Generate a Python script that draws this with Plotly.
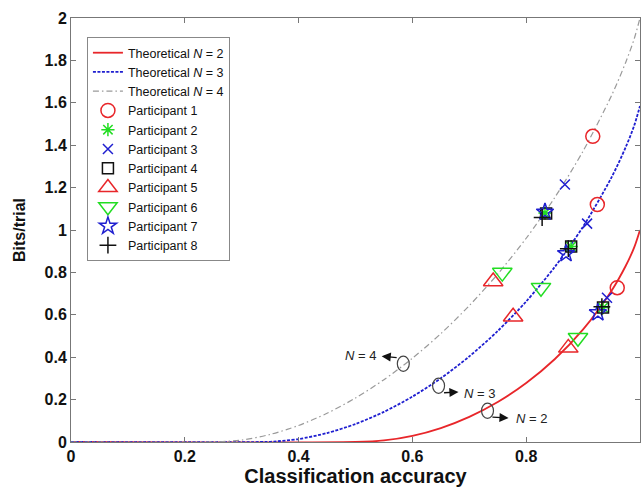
import plotly.graph_objects as go

# Theoretical curves (Wolpaw bits/trial), values tabulated
acc_n2 = [0.0, 0.5, 0.55, 0.6, 0.65, 0.7, 0.75, 0.8, 0.85, 0.9, 0.95, 0.975, 0.99, 1.0]
bits_n2 = [0.0, 0.0, 0.0072, 0.0290, 0.0659, 0.1187, 0.1887, 0.2781, 0.3902, 0.5310, 0.7136, 0.8313, 0.9192, 1.0]

acc_n3 = [0.0, 0.3333, 0.35, 0.4, 0.45, 0.5, 0.55, 0.6, 0.65, 0.7, 0.75, 0.8, 0.85, 0.9, 0.95, 0.975, 0.99, 1.0]
bits_n3 = [0.0, 0.0, 0.0009, 0.0140, 0.0422, 0.0850, 0.1422, 0.2140, 0.3009, 0.4037, 0.5237, 0.6630, 0.8251, 1.0160, 1.2486, 1.3913, 1.4942, 1.5850]

acc_n4 = [0.0, 0.25, 0.3, 0.35, 0.4, 0.45, 0.5, 0.55, 0.6, 0.65, 0.7, 0.75, 0.8, 0.85, 0.9, 0.95, 0.975, 0.99, 1.0]
bits_n4 = [0.0, 0.0, 0.0092, 0.0357, 0.0781, 0.1355, 0.2075, 0.2940, 0.3951, 0.5112, 0.6432, 0.7925, 0.9611, 1.1524, 1.3725, 1.6344, 1.7917, 1.9034, 2.0]

# Participants (accuracy, bits/trial)
p1_acc = [0.917, 0.925, 0.960]
p1_bits = [1.442, 1.120, 0.728]
p2_acc = [0.833, 0.879, 0.935]
p2_bits = [1.080, 0.922, 0.634]
p3_acc = [0.868, 0.907, 0.942]
p3_bits = [1.215, 1.030, 0.680]
p4_acc = [0.835, 0.879, 0.935]
p4_bits = [1.078, 0.922, 0.634]
p5_acc = [0.742, 0.777, 0.874]
p5_bits = [0.757, 0.591, 0.444]
p6_acc = [0.758, 0.826, 0.891]
p6_bits = [0.799, 0.728, 0.492]
p7_acc = [0.833, 0.870, 0.926]
p7_bits = [1.085, 0.889, 0.610]
p8_acc = [0.828, 0.874, 0.933]
p8_bits = [1.059, 0.912, 0.638]

FONT = "Arial, Liberation Sans, sans-serif"

fig = go.Figure()

fig.add_trace(go.Scatter(x=acc_n2, y=bits_n2, mode="lines", name="Theoretical <i>N</i> = 2",
                         line=dict(color="#e8262a", width=1.8, shape="spline", smoothing=0.8)))
fig.add_trace(go.Scatter(x=acc_n3, y=bits_n3, mode="lines", name="Theoretical <i>N</i> = 3",
                         line=dict(color="#1f1fd0", width=1.8, dash="3px,1.5px", shape="spline", smoothing=0.8)))
fig.add_trace(go.Scatter(x=acc_n4, y=bits_n4, mode="lines", name="Theoretical <i>N</i> = 4",
                         line=dict(color="#9a9a9a", width=1.2, dash="6px,3px,1.5px,3px", shape="spline", smoothing=0.8)))

participants = [
    ("Participant 1", p1_acc, p1_bits, "circle-open", "#e8262a", 14),
    ("Participant 2", p2_acc, p2_bits, "asterisk-open", "#22dd22", 11),
    ("Participant 3", p3_acc, p3_bits, "x-thin-open", "#1f1fd0", 10),
    ("Participant 4", p4_acc, p4_bits, "square-open", "#111111", 11),
    ("Participant 5", p5_acc, p5_bits, "triangle-up-open", "#e8262a", 17),
    ("Participant 6", p6_acc, p6_bits, "triangle-down-open", "#22dd22", 17),
    ("Participant 7", p7_acc, p7_bits, "star-open", "#1f1fd0", 13),
    ("Participant 8", p8_acc, p8_bits, "cross-thin-open", "#111111", 12),
]
for name, xs, ys, sym, col, sz in participants:
    fig.add_trace(go.Scatter(x=xs, y=ys, mode="markers", name=name,
                             marker=dict(symbol=sym, size=sz, color=col,
                                         line=dict(color=col, width=1.5))))

# Ellipse markers with arrows and labels
ellipses = [(0.584, 0.369), (0.646, 0.265), (0.732, 0.147)]
for ex, ey in ellipses:
    fig.add_shape(type="circle", xref="x", yref="y",
                  x0=ex - 0.0105, x1=ex + 0.0105, y0=ey - 0.036, y1=ey + 0.036,
                  line=dict(color="#444444", width=1.2))

arrows = [((0.575, 0.397), (0.546, 0.405)),
          ((0.653, 0.232), (0.681, 0.236)),
          ((0.738, 0.118), (0.769, 0.113))]
for (tx, ty), (hx, hy) in arrows:
    fig.add_annotation(x=hx, y=hy, ax=tx, ay=ty, xref="x", yref="y", axref="x", ayref="y",
                       text="", showarrow=True, arrowhead=2, arrowsize=1.4, arrowwidth=1.3,
                       arrowcolor="#111111")

labels = [(0.509, 0.407, "<i>N</i> = 4"), (0.718, 0.229, "<i>N</i> = 3"), (0.809, 0.110, "<i>N</i> = 2")]
for lx, ly, txt in labels:
    fig.add_annotation(x=lx, y=ly, xref="x", yref="y", text=txt, showarrow=False,
                       font=dict(family=FONT, size=13, color="#222222"))

axis_common = dict(showgrid=False, zeroline=False, showline=True, linecolor="#777777", linewidth=1,
                   mirror="allticks", ticks="inside", ticklen=5, tickcolor="#777777",
                   automargin=False,
                   tickfont=dict(family=FONT, size=16, color="#111111"))

fig.update_xaxes(range=[0, 1], tickvals=[0, 0.2, 0.4, 0.6, 0.8, 1.0],
                 ticktext=["<b>0</b>", "<b>0.2</b>", "<b>0.4</b>", "<b>0.6</b>", "<b>0.8</b>", "<b>1</b>"],
                 title=dict(text="<b>Classification accuracy</b>", standoff=6,
                            font=dict(family=FONT, size=20, color="#111111")),
                 **axis_common)
fig.update_yaxes(range=[0, 2], tickvals=[0, 0.2, 0.4, 0.6, 0.8, 1.0, 1.2, 1.4, 1.6, 1.8, 2.0],
                 ticktext=["<b>0</b>", "<b>0.2</b>", "<b>0.4</b>", "<b>0.6</b>", "<b>0.8</b>", "<b>1</b>",
                           "<b>1.2</b>", "<b>1.4</b>", "<b>1.6</b>", "<b>1.8</b>", "<b>2</b>"],
                 title=dict(text="<b>Bits/trial</b>", standoff=14,
                            font=dict(family=FONT, size=16, color="#111111")),
                 **axis_common)

fig.update_layout(
    width=644, height=487,
    margin=dict(l=71, r=4, t=18, b=45),
    paper_bgcolor="white", plot_bgcolor="white",
    showlegend=True,
    legend=dict(x=0.028, y=0.955, xanchor="left", yanchor="top",
                bgcolor="white", bordercolor="#888888", borderwidth=1,
                font=dict(family=FONT, size=12.5, color="#111111"),
                tracegroupgap=0, itemwidth=30, itemsizing="trace"),
)

fig.write_html("out.html")
